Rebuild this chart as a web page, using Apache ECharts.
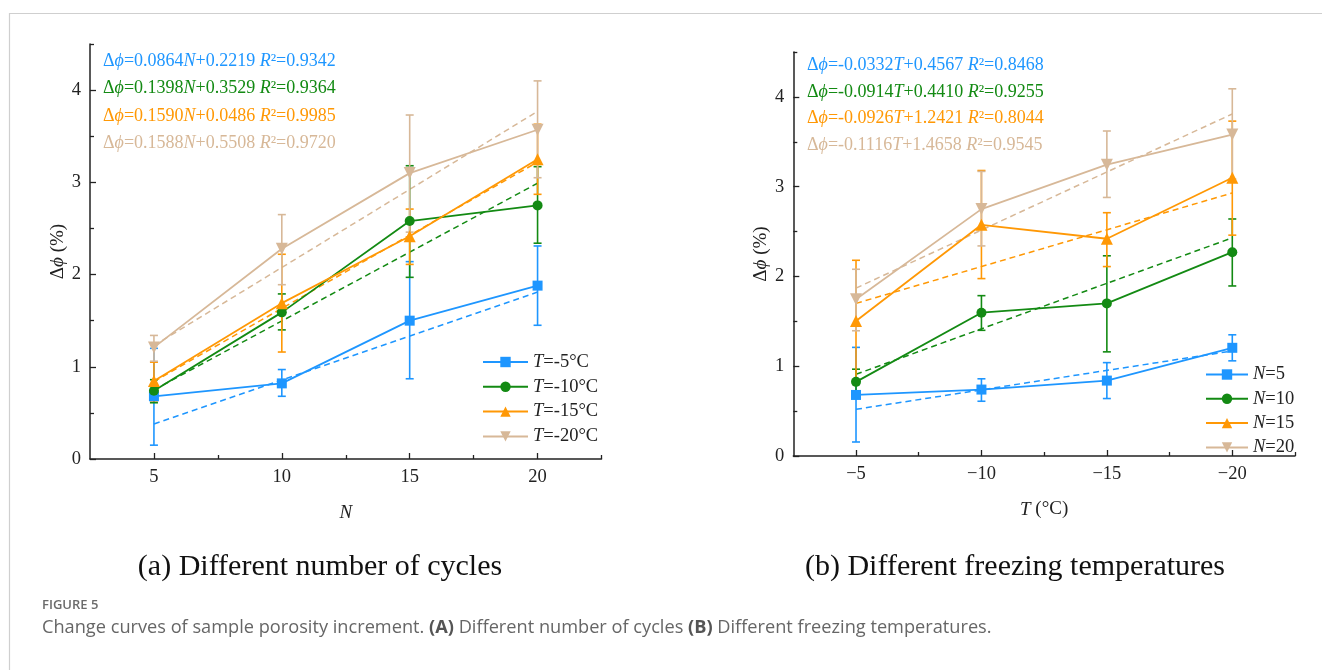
<!DOCTYPE html>
<html><head><meta charset="utf-8">
<script src="https://cdn.jsdelivr.net/npm/echarts@6/dist/echarts.min.js"></script>
<style>html,body{margin:0;padding:0;background:#fff}#c{width:1322px;height:670px}</style>
</head><body><div id="c"></div>
<script>
// ---------- data ----------
const nValues = [5, 10, 15, 20];
const tValues = [-5, -10, -15, -20];
const leftNames = ['T=-5°C', 'T=-10°C', 'T=-15°C', 'T=-20°C'];
const rightNames = ['N=5', 'N=10', 'N=15', 'N=20'];
const colors = ['#1E96FF', '#138A13', '#FF9805', '#D7B898'];
const symbols = ['rect', 'circle', 'triangle', 'triangle'];
const symbolRotates = [0, 0, 0, 180];

// (a) porosity increment vs N, one row per freezing temperature
const leftMean = [
  [0.68, 0.82, 1.50, 1.88],
  [0.74, 1.59, 2.58, 2.75],
  [0.845, 1.69, 2.415, 3.25],
  [1.21, 2.28, 3.10, 3.57]
];
const leftLow = [
  [0.15, 0.68, 0.87, 1.45],
  [0.61, 1.40, 1.97, 2.34],
  [0.63, 1.16, 2.11, 2.87],
  [1.06, 1.89, 2.46, 3.05]
];
const leftHigh = [
  [1.20, 0.97, 2.14, 2.31],
  [0.86, 1.79, 3.18, 3.17],
  [1.05, 2.22, 2.71, 3.63],
  [1.34, 2.65, 3.73, 4.10]
];
const leftFitStart = [0.38, 0.75, 0.84, 1.23];
const leftFitEnd = [1.81, 2.99, 3.22, 3.77];
const leftEquations = [
  ['=0.0864', 'N', '+0.2219 ', '=0.9342'],
  ['=0.1398', 'N', '+0.3529 ', '=0.9364'],
  ['=0.1590', 'N', '+0.0486 ', '=0.9985'],
  ['=0.1588', 'N', '+0.5508 ', '=0.9720']
];

// (b) porosity increment vs T, one row per number of cycles
const rightMean = [
  [0.68, 0.74, 0.84, 1.205],
  [0.826, 1.596, 1.70, 2.27],
  [1.503, 2.575, 2.42, 3.10],
  [1.745, 2.75, 3.245, 3.58]
];
const rightLow = [
  [0.156, 0.61, 0.64, 1.06],
  [0.69, 1.40, 1.16, 1.894],
  [0.83, 1.976, 2.11, 2.46],
  [1.395, 2.34, 2.88, 3.085]
];
const rightHigh = [
  [1.21, 0.86, 1.04, 1.35],
  [0.967, 1.786, 2.23, 2.64],
  [2.18, 3.18, 2.71, 3.73],
  [2.08, 3.17, 3.62, 4.09]
];
const rightFitStart = [0.52, 0.91, 1.70, 1.87];
const rightFitEnd = [1.17, 2.43, 2.93, 3.81];
const rightEquations = [
  ['=-0.0332', 'T', '+0.4567 ', '=0.8468'],
  ['=-0.0914', 'T', '+0.4410 ', '=0.9255'],
  ['=-0.0926', 'T', '+1.2421 ', '=0.8044'],
  ['=-0.1116', 'T', '+1.4658 ', '=0.9545']
];

const yMajor = [0, 1, 2, 3, 4];
const yMinor = [0.5, 1.5, 2.5, 3.5, 4.5];
const nMinor = [7.5, 12.5, 17.5, 22.5];
const tMinor = [-7.5, -12.5, -17.5, -22.5];

// ---------- helpers ----------
const SERIF = '"Liberation Serif", "Times New Roman", serif';
const SANS = '"Open Sans", "Noto Sans", sans-serif';
const axisCol = '#222';

function errRender(params, api) {
  const x = api.value(0), lo = api.value(1), hi = api.value(2);
  const a = api.coord([x, lo]), b = api.coord([x, hi]);
  const cw = 4;
  const st = { stroke: api.visual('color'), lineWidth: 1.6 };
  return { type: 'group', children: [
    { type: 'line', shape: { x1: a[0], y1: a[1], x2: b[0], y2: b[1] }, style: st },
    { type: 'line', shape: { x1: a[0] - cw, y1: a[1], x2: a[0] + cw, y2: a[1] }, style: st },
    { type: 'line', shape: { x1: b[0] - cw, y1: b[1], x2: b[0] + cw, y2: b[1] }, style: st }
  ]};
}

function yAxesFor(grid, nameStr, gap) {
  return [
    { type: 'value', gridIndex: grid, min: 0, max: 4.5, position: 'left',
      name: nameStr, nameLocation: 'middle', nameGap: gap, nameRotate: 90,
      nameTextStyle: { fontFamily: SERIF, fontSize: 19, color: axisCol,
        rich: { n: { fontFamily: SERIF, fontSize: 19, color: axisCol },
                i: { fontFamily: SERIF, fontSize: 19, fontStyle: 'italic', color: axisCol } } },
      axisLine: { show: true, lineStyle: { color: axisCol, width: 1.5 } },
      axisTick: { show: true, inside: true, length: 6, customValues: yMajor, lineStyle: { color: axisCol, width: 1.3 } },
      axisLabel: { customValues: yMajor, fontFamily: SERIF, fontSize: 18.5, color: axisCol, margin: 9 },
      splitLine: { show: false } },
    { type: 'value', gridIndex: grid, min: 0, max: 4.5, position: 'left',
      axisLine: { show: false },
      axisTick: { show: true, inside: true, length: 4, customValues: yMinor, lineStyle: { color: axisCol, width: 1.3 } },
      axisLabel: { show: false }, splitLine: { show: false } }
  ];
}

const series = [];
function addChart(xi, yi, xs, mean, low, high, fs, fe, names) {
  for (let k = 0; k < 4; k++) {
    series.push({ type: 'custom', xAxisIndex: xi, yAxisIndex: yi, renderItem: errRender,
      itemStyle: { color: colors[k] }, encode: { x: 0, y: [1, 2] }, z: 2,
      data: xs.map((x, j) => [x, low[k][j], high[k][j]]) });
  }
  for (let k = 0; k < 4; k++) {
    series.push({ type: 'line', xAxisIndex: xi, yAxisIndex: yi, symbol: 'none', z: 1,
      lineStyle: { color: colors[k], width: 1.5, type: [6, 4] },
      data: [[xs[0], fs[k]], [xs[3], fe[k]]] });
  }
  for (let k = 0; k < 4; k++) {
    series.push({ type: 'line', name: names[k], xAxisIndex: xi, yAxisIndex: yi, z: 3,
      symbol: symbols[k], symbolRotate: symbolRotates[k], symbolSize: k >= 2 ? 12 : 10,
      itemStyle: { color: colors[k] }, lineStyle: { color: colors[k], width: 1.8 },
      data: xs.map((x, j) => [x, mean[k][j]]) });
  }
}
addChart(0, 0, nValues, leftMean, leftLow, leftHigh, leftFitStart, leftFitEnd, leftNames);
addChart(2, 2, tValues, rightMean, rightLow, rightHigh, rightFitStart, rightFitEnd, rightNames);

function legendFor(names, left, top, w, varName, gap) {
  return { data: names, orient: 'vertical', left: left, top: top, itemWidth: w, itemHeight: 13, itemGap: gap,
    selectedMode: false, padding: 0,
    formatter: n => '{i|' + varName + '}{n|' + n.slice(varName.length) + '}',
    textStyle: { lineHeight: 13, rich: {
      i: { fontFamily: SERIF, fontSize: 18.5, fontStyle: 'italic', color: axisCol, lineHeight: 13 },
      n: { fontFamily: SERIF, fontSize: 18.5, color: axisCol, lineHeight: 13 } } } };
}

const graphics = [
  { type: 'rect', shape: { x: 9.5, y: 13.5, width: 1400, height: 800 }, style: { fill: 'none', stroke: '#cfcfcf', lineWidth: 1.2 }, silent: true }
];
function eqText(eqs, x, ys) {
  eqs.forEach((e, k) => {
    graphics.push({ type: 'text', x: x, y: ys[k], style: {
      text: '{n|Δ}{i|ϕ}{n|' + e[0] + '}{i|' + e[1] + '}{n|' + e[2] + '}{i|R}{n|²' + e[3] + '}',
      verticalAlign: 'middle',
      rich: { n: { fontFamily: SERIF, fontSize: 18, fill: colors[k] },
              i: { fontFamily: SERIF, fontSize: 18, fontStyle: 'italic', fill: colors[k] } } } });
  });
}
eqText(leftEquations, 103, [61, 88, 116, 143]);
eqText(rightEquations, 807, [65, 92, 118, 145]);

graphics.push({ type: 'text', x: 320, y: 567, style: { text: '(a) Different number of cycles', fontFamily: SERIF, fontSize: 30, fill: '#111', align: 'center', verticalAlign: 'middle' } });
graphics.push({ type: 'text', x: 1015, y: 567, style: { text: '(b) Different freezing temperatures', fontFamily: SERIF, fontSize: 30, fill: '#111', align: 'center', verticalAlign: 'middle' } });
graphics.push({ type: 'text', x: 42, y: 605, style: { text: 'FIGURE 5', fontFamily: SANS, fontSize: 13, fontWeight: 600, fill: '#6b6b6b', verticalAlign: 'middle' } });
graphics.push({ type: 'text', x: 42, y: 628, style: {
  text: '{n|Change curves of sample porosity increment. }{b|(A)}{n| Different number of cycles }{b|(B)}{n| Different freezing temperatures.}',
  verticalAlign: 'middle',
  rich: { n: { fontFamily: SANS, fontSize: 18.2, fill: '#666' }, b: { fontFamily: SANS, fontSize: 18.2, fontWeight: 'bold', fill: '#555' } } } });

const option = {
  animation: false,
  backgroundColor: '#fff',
  grid: [
    { left: 90, top: 44, width: 511.5, height: 415 },
    { left: 793.3, top: 52, width: 501.7, height: 404 }
  ],
  xAxis: [
    { type: 'value', gridIndex: 0, min: 2.5, max: 22.5, position: 'bottom',
      name: 'N', nameLocation: 'middle', nameGap: 44,
      nameTextStyle: { fontFamily: SERIF, fontSize: 19, fontStyle: 'italic', color: axisCol },
      axisLine: { lineStyle: { color: axisCol, width: 1.5 } },
      axisTick: { inside: true, length: 6, customValues: nValues, lineStyle: { color: axisCol, width: 1.3 } },
      axisLabel: { customValues: nValues, fontFamily: SERIF, fontSize: 18.5, color: axisCol, margin: 9 },
      splitLine: { show: false } },
    { type: 'value', gridIndex: 0, min: 2.5, max: 22.5, position: 'bottom',
      axisLine: { show: false },
      axisTick: { inside: true, length: 4, customValues: nMinor, lineStyle: { color: axisCol, width: 1.3 } },
      axisLabel: { show: false }, splitLine: { show: false } },
    { type: 'value', gridIndex: 1, min: -22.5, max: -2.5, inverse: true, position: 'bottom',
      name: '{i|T}{n| (°C)}', nameLocation: 'middle', nameGap: 44,
      nameTextStyle: { fontFamily: SERIF, fontSize: 19, color: axisCol,
        rich: { n: { fontFamily: SERIF, fontSize: 19, color: axisCol },
                i: { fontFamily: SERIF, fontSize: 19, fontStyle: 'italic', color: axisCol } } },
      axisLine: { lineStyle: { color: axisCol, width: 1.5 } },
      axisTick: { inside: true, length: 6, customValues: tValues, lineStyle: { color: axisCol, width: 1.3 } },
      axisLabel: { customValues: tValues, formatter: v => '\u2212' + Math.abs(v), fontFamily: SERIF, fontSize: 18.5, color: axisCol, margin: 9 },
      splitLine: { show: false } },
    { type: 'value', gridIndex: 1, min: -22.5, max: -2.5, inverse: true, position: 'bottom',
      axisLine: { show: false },
      axisTick: { inside: true, length: 4, customValues: tMinor, lineStyle: { color: axisCol, width: 1.3 } },
      axisLabel: { show: false }, splitLine: { show: false } }
  ],
  yAxis: [].concat(yAxesFor(0, '{n|Δ}{i|ϕ}{n| (%)}', 22), yAxesFor(1, '{n|Δ}{i|ϕ}{n| (%)}', 23)),
  legend: [
    legendFor(leftNames, 482, 352.5, 45, 'T', 5.8),
    legendFor(rightNames, 1205, 365, 42, 'N', 5.3)
  ],
  graphic: graphics,
  series: series
};
const chart = echarts.init(document.getElementById('c'), null, { renderer: 'canvas' });
chart.setOption(option);
</script></body></html>
